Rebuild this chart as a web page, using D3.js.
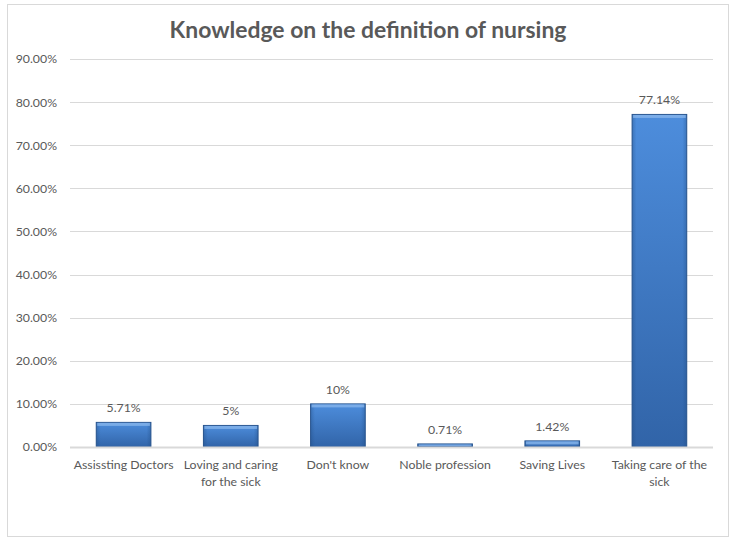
<!DOCTYPE html>
<html><head><meta charset="utf-8">
<script src="https://cdn.jsdelivr.net/npm/d3@7"></script>
<style>body{margin:0;background:#fff;} svg{display:block;}</style>
</head><body>
<svg id="chart" width="732" height="541"></svg>
<script>
const title = "Knowledge on the definition of nursing";
const categories = ["Assissting Doctors","Loving and caring for the sick","Don't know","Noble profession","Saving Lives","Taking care of the sick"];
const values = [5.71, 5, 10, 0.71, 1.42, 77.14];
const valueLabels = ["5.71%","5%","10%","0.71%","1.42%","77.14%"];
const yTicks = [0,10,20,30,40,50,60,70,80,90];

const svg = d3.select("#chart");
const font = "Lato, 'Open Sans', sans-serif";
const txt = "#595959";

svg.append("rect").attr("x",7.5).attr("y",4.5).attr("width",721).attr("height",532)
  .attr("fill","#fff").attr("stroke","#d9d9d9").attr("stroke-width",1);

const plot = {left:70, right:713, top:59, bottom:447};
const x = d3.scaleBand().domain(categories).range([plot.left, plot.right]).paddingInner(0.49).paddingOuter(0.245);
const y = d3.scaleLinear().domain([0,90]).range([plot.bottom, plot.top]);

const defs = svg.append("defs");
const g1 = defs.append("linearGradient").attr("id","barGrad").attr("x1",0).attr("y1",0).attr("x2",0).attr("y2",1);
g1.append("stop").attr("offset","0%").attr("stop-color","#4d8ddc");
g1.append("stop").attr("offset","100%").attr("stop-color","#3164a8");
const g2 = defs.append("linearGradient").attr("id","sideGrad").attr("x1",0).attr("y1",0).attr("x2",1).attr("y2",0);
g2.append("stop").attr("offset","0%").attr("stop-color","#1f4a80").attr("stop-opacity",0.35);
g2.append("stop").attr("offset","8%").attr("stop-color","#1f4a80").attr("stop-opacity",0);
g2.append("stop").attr("offset","92%").attr("stop-color","#1f4a80").attr("stop-opacity",0);
g2.append("stop").attr("offset","100%").attr("stop-color","#1f4a80").attr("stop-opacity",0.35);

// title
const t = svg.append("text").attr("x",368).attr("y",38).attr("text-anchor","middle")
  .attr("font-family",font).attr("font-weight","bold").attr("font-size",21).attr("fill",txt).text(title);
const tw = t.node().getComputedTextLength();
t.attr("font-size", 21*397/tw);

// gridlines
const grid = svg.append("g");
grid.selectAll("line").data(yTicks.filter(d=>d>0)).join("line")
  .attr("x1",plot.left).attr("x2",plot.right)
  .attr("y1",d=>Math.round(y(d))+0.5).attr("y2",d=>Math.round(y(d))+0.5)
  .attr("stroke","#d9d9d9").attr("stroke-width",1);

// y axis labels
const yAxis = d3.axisLeft(y).tickValues(yTicks).tickFormat(d=>d.toFixed(2)+"%").tickSize(0).tickPadding(0);
const ya = svg.append("g").attr("transform",`translate(57,0)`).call(yAxis);
ya.select(".domain").remove();
ya.selectAll("text").attr("font-family",font).attr("font-size",12.3).attr("fill",txt);

// bars
const bars = svg.append("g");
categories.forEach((c,i)=>{
  const bx = x(c), bw = x.bandwidth(), by = y(values[i]), bh = y(0)-y(values[i]);
  bars.append("rect").attr("x",bx).attr("y",by).attr("width",bw).attr("height",bh)
    .attr("fill","url(#barGrad)").attr("stroke","#2a5690").attr("stroke-width",1);
  bars.append("rect").attr("x",bx).attr("y",by).attr("width",bw).attr("height",bh)
    .attr("fill","url(#sideGrad)");
  const hb = Math.min(3, bh/2);
  bars.append("rect").attr("x",bx+1).attr("y",by+0.5).attr("width",bw-2).attr("height",hb)
    .attr("fill","#8fbbee").attr("opacity",0.7);
});

// x axis line
svg.append("line").attr("x1",plot.left).attr("x2",plot.right).attr("y1",y(0)+0.5).attr("y2",y(0)+0.5)
  .attr("stroke","#d9d9d9").attr("stroke-width",2);

// value labels
svg.append("g").selectAll("text").data(categories).join("text")
  .attr("x",d=>x(d)+x.bandwidth()/2).attr("y",(d,i)=>y(values[i])-10)
  .attr("text-anchor","middle").attr("font-family",font).attr("font-size",12.3).attr("fill",txt)
  .text((d,i)=>valueLabels[i]);

// category labels with wrapping
const xAxis = d3.axisBottom(x).tickSize(0).tickPadding(0);
const xa = svg.append("g").attr("transform",`translate(0,${y(0)})`).call(xAxis);
xa.select(".domain").remove();
xa.selectAll("text").attr("font-family",font).attr("font-size",12.3).attr("fill",txt)
  .attr("y",22).attr("dy",0)
  .each(function(d){
    const el = d3.select(this);
    const words = d.split(" ");
    el.text(null);
    let line = [], lines = [];
    const tmp = el.append("tspan");
    words.forEach(w=>{
      line.push(w);
      tmp.text(line.join(" "));
      if (tmp.node().getComputedTextLength() > 105 && line.length>1){
        line.pop(); lines.push(line.join(" ")); line=[w];
      }
    });
    lines.push(line.join(" "));
    tmp.remove();
    lines.forEach((l,k)=>{
      el.append("tspan").attr("x",0).attr("y",22+k*17).text(l);
    });
  });
</script>
</body></html>
